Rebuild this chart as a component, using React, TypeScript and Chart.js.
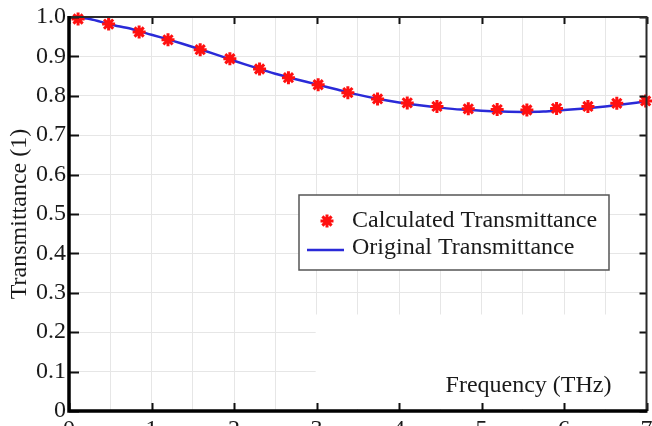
import React, { useEffect, useRef } from 'react';
import { Chart, registerables } from 'chart.js';

Chart.register(...registerables);

// Calculated transmittance (red asterisks)
const calcFreq = [0.11, 0.48, 0.85, 1.2, 1.59, 1.95, 2.31, 2.66, 3.02, 3.38, 3.74, 4.1, 4.46, 4.84, 5.19, 5.55, 5.91, 6.29, 6.64, 6.99];
const calcT = [0.995, 0.982, 0.962, 0.942, 0.917, 0.894, 0.868, 0.846, 0.828, 0.808, 0.792, 0.782, 0.773, 0.767, 0.765, 0.764, 0.768, 0.773, 0.781, 0.787];

// Original transmittance (blue line)
const origFreq = [0, 0.25, 0.5, 0.75, 1.0, 1.25, 1.5, 1.75, 2.0, 2.25, 2.5, 2.75, 3.0, 3.25, 3.5, 3.75, 4.0, 4.25, 4.5, 4.75, 5.0, 5.25, 5.5, 5.75, 6.0, 6.25, 6.5, 6.75, 7.0];
const origT = [1.0, 0.995, 0.981, 0.97, 0.955, 0.94, 0.924, 0.907, 0.889, 0.872, 0.856, 0.842, 0.829, 0.816, 0.803, 0.792, 0.783, 0.776, 0.77, 0.765, 0.762, 0.76, 0.759, 0.76, 0.764, 0.768, 0.773, 0.779, 0.786];

const xMajorTicks = [0, 1, 2, 3, 4, 5, 6, 7];
const yTicks = [0, 0.1, 0.2, 0.3, 0.4, 0.5, 0.6, 0.7, 0.8, 0.9, 1.0];

const seriesNames = ['Calculated Transmittance', 'Original Transmittance'];
const xTitle = 'Frequency (THz)';
const yTitle = 'Transmittance (1)';

const FONT = "'Liberation Serif', 'Times New Roman', serif";
const TEXT = '#1a1a1a';

const decorPlugin = {
  id: 'decor',
  beforeDatasetsDraw(chart: any) {
    const { ctx, chartArea: a, scales } = chart;
    const xs = scales.x;
    const ys = scales.y;
    // white patch behind the x-axis title (as in the source figure)
    ctx.save();
    ctx.fillStyle = '#ffffff';
    const px0 = xs.getPixelForValue(2.99);
    const py0 = ys.getPixelForValue(0.245);
    ctx.fillRect(px0, py0, a.right - 2 - px0, a.bottom - 2 - py0);
    ctx.fillStyle = TEXT;
    ctx.font = `24px ${FONT}`;
    ctx.textAlign = 'center';
    ctx.textBaseline = 'middle';
    ctx.fillText(xTitle, xs.getPixelForValue(5.57), ys.getPixelForValue(0.064));
    ctx.restore();
  },
  afterDraw(chart: any) {
    const { ctx, chartArea: a, scales } = chart;
    const xs = scales.x;
    const ys = scales.y;
    ctx.save();
    // inward tick marks
    ctx.strokeStyle = '#111';
    ctx.lineWidth = 2;
    ctx.beginPath();
    xMajorTicks.forEach((v) => {
      const px = Math.round(xs.getPixelForValue(v)) + 0.5;
      ctx.moveTo(px, a.bottom);
      ctx.lineTo(px, a.bottom - 8);
      ctx.moveTo(px, a.top);
      ctx.lineTo(px, a.top + 7);
    });
    yTicks.forEach((v) => {
      const py = Math.round(ys.getPixelForValue(v)) + 0.5;
      ctx.moveTo(a.left, py);
      ctx.lineTo(a.left + 10, py);
      ctx.moveTo(a.right, py);
      ctx.lineTo(a.right - 7, py);
    });
    ctx.stroke();
    // frame
    ctx.strokeStyle = '#2a2a2a';
    ctx.lineWidth = 2;
    ctx.beginPath();
    ctx.moveTo(a.left, a.top);
    ctx.lineTo(a.right, a.top);
    ctx.lineTo(a.right, a.bottom);
    ctx.stroke();
    ctx.strokeStyle = '#000';
    ctx.lineWidth = 3.5;
    ctx.beginPath();
    ctx.moveTo(a.left, a.top - 1);
    ctx.lineTo(a.left, a.bottom);
    ctx.lineTo(a.right + 1, a.bottom);
    ctx.stroke();

    // legend box
    const lx0 = 299, ly0 = 195, lx1 = 609, ly1 = 270;
    ctx.fillStyle = '#ffffff';
    ctx.fillRect(lx0, ly0, lx1 - lx0, ly1 - ly0);
    ctx.strokeStyle = '#555';
    ctx.lineWidth = 1.5;
    ctx.strokeRect(lx0, ly0, lx1 - lx0, ly1 - ly0);
    const ds = chart.data.datasets;
    // star marker
    const cx = 327, cy = 221, r = 6.5;
    ctx.strokeStyle = ds[0].borderColor;
    ctx.lineWidth = 3;
    ctx.beginPath();
    for (let k = 0; k < 4; k++) {
      const ang = (k * Math.PI) / 4;
      ctx.moveTo(cx - r * Math.cos(ang), cy - r * Math.sin(ang));
      ctx.lineTo(cx + r * Math.cos(ang), cy + r * Math.sin(ang));
    }
    ctx.stroke();
    // line marker
    ctx.strokeStyle = ds[1].borderColor;
    ctx.lineWidth = 2.5;
    ctx.beginPath();
    ctx.moveTo(307, 250);
    ctx.lineTo(344, 250);
    ctx.stroke();
    ctx.fillStyle = TEXT;
    ctx.font = `24px ${FONT}`;
    ctx.textAlign = 'left';
    ctx.textBaseline = 'middle';
    ctx.fillText(ds[0].label, 352, 221);
    ctx.fillText(ds[1].label, 352, 248);
    ctx.restore();
  },
};

export default function App() {
  const ref = useRef<HTMLCanvasElement>(null);
  useEffect(() => {
    if (!ref.current) return;
    const chart = new Chart(ref.current, {
      type: 'scatter',
      data: {
        datasets: [
          {
            label: seriesNames[0],
            data: calcFreq.map((x, i) => ({ x, y: calcT[i] })),
            showLine: false,
            pointStyle: 'star',
            pointRadius: 6.5,
            pointBorderWidth: 3,
            borderColor: '#ff1010',
            backgroundColor: '#ff1010',
            pointBorderColor: '#ff1010',
            clip: false,
          } as any,
          {
            label: seriesNames[1],
            data: origFreq.map((x, i) => ({ x, y: origT[i] })),
            showLine: true,
            borderColor: '#2a2ad8',
            borderWidth: 2.5,
            pointRadius: 0,
            tension: 0.3,
          } as any,
        ],
      },
      options: {
        animation: false,
        responsive: false,
        devicePixelRatio: 1,
        layout: { padding: { left: 0, top: 17, right: 2, bottom: 0 } },
        plugins: { legend: { display: false }, tooltip: { enabled: false } },
        scales: {
          x: {
            type: 'linear',
            min: 0,
            max: 7,
            afterFit: (s: any) => { s.height = 39; s.paddingRight = 0; s.paddingLeft = 0; },
            border: { display: false },
            grid: { color: '#e6e6e6', lineWidth: 1, drawTicks: false },
            ticks: {
              stepSize: 0.5,
              autoSkip: false,
              maxRotation: 0,
              padding: 4,
              color: TEXT,
              font: { family: FONT, size: 24 },
              callback: (v: any) => (Number.isInteger(v) ? String(v) : ''),
            },
          },
          y: {
            type: 'linear',
            min: 0,
            max: 1,
            afterFit: (s: any) => { s.width = 69; s.paddingTop = 0; s.paddingBottom = 0; },
            border: { display: false },
            grid: { color: '#e6e6e6', lineWidth: 1, drawTicks: false },
            title: {
              display: true,
              text: yTitle,
              color: TEXT,
              font: { family: FONT, size: 24 },
              padding: { top: 5, bottom: 0 },
            },
            ticks: {
              stepSize: 0.1,
              padding: 3,
              color: TEXT,
              font: { family: FONT, size: 24 },
              callback: (v: any) => {
                const r = Math.round(v * 10) / 10;
                return r === 0 ? '0' : r.toFixed(1);
              },
            },
          },
        },
      },
      plugins: [decorPlugin],
    });
    return () => chart.destroy();
  }, []);
  return (
    <div style={{ position: 'fixed', left: 0, top: 0, width: 652, height: 426, overflow: 'hidden', background: '#fff' }}>
      <canvas ref={ref} width={656} height={450} style={{ display: 'block', width: 656, height: 450 }} />
    </div>
  );
}
